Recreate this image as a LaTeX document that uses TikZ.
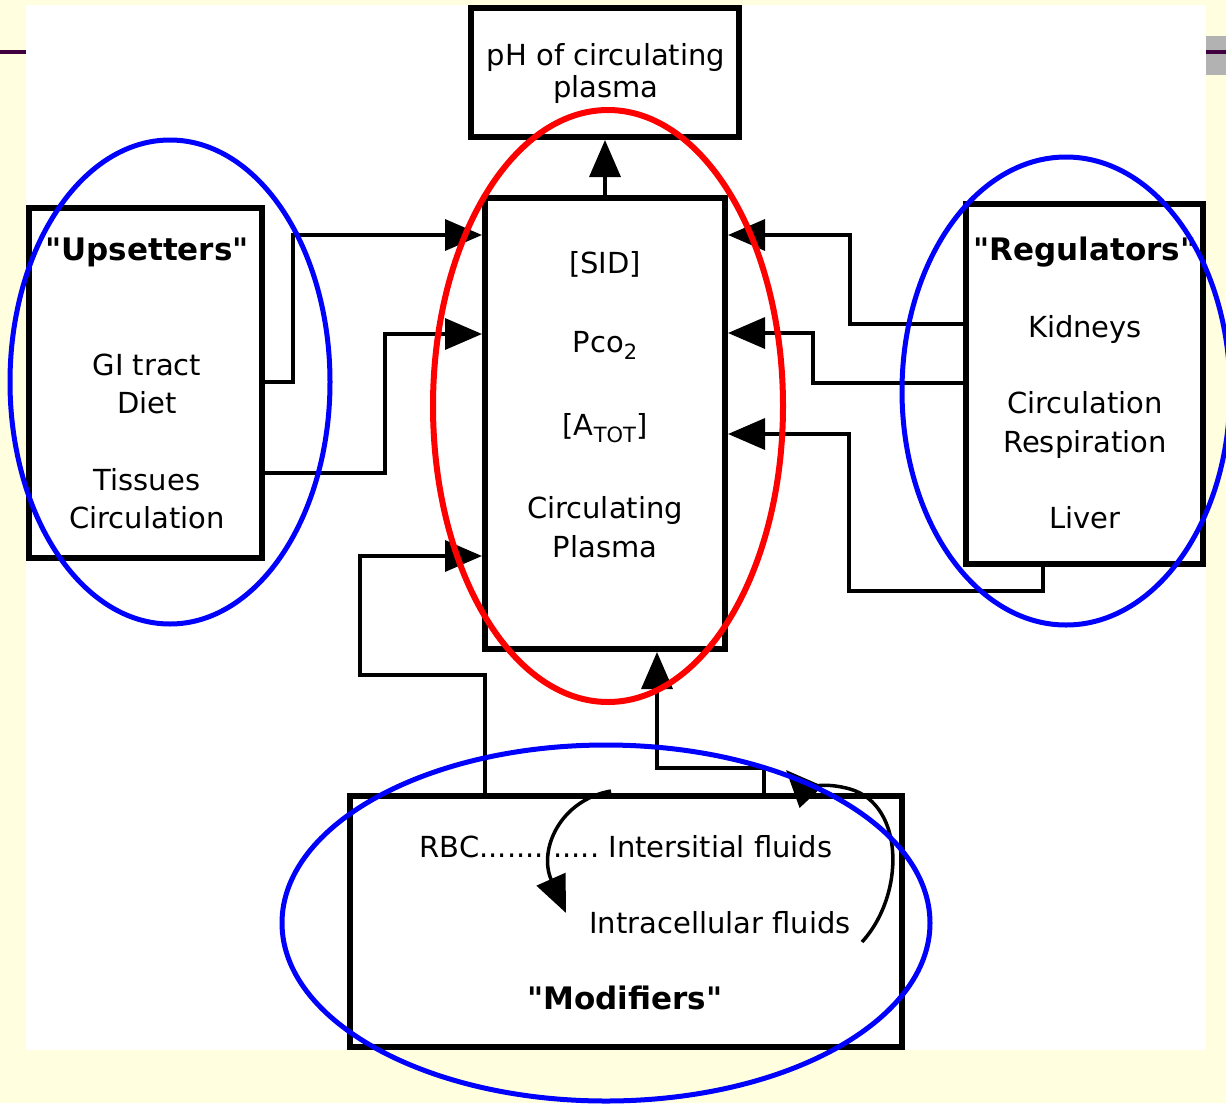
\documentclass[tikz,border=0pt]{standalone}
\usepackage{fontspec}
\setmainfont{DejaVu Sans}
\newfontfamily\qfont{DejaVu Sans}
\usetikzlibrary{arrows.meta}
\definecolor{bgyellow}{RGB}{255,255,224}
\definecolor{barpurple}{RGB}{64,0,64}
\definecolor{bargrey}{RGB}{178,178,178}
\definecolor{ovalblue}{RGB}{0,0,255}
\definecolor{ovalred}{RGB}{255,0,0}
\newcommand\lowsub[1]{\raisebox{-7pt}{\fontsize{21}{21}\selectfont #1}}
\newcommand\sq{{\qfont\char34}}
\begin{document}
\begin{tikzpicture}[x=1pt,y=-1pt,
  box/.style={draw=black, line width=6pt, fill=white, inner sep=0pt, rectangle},
  conn/.style={draw=black, line width=3.5pt},
  arr/.style={conn, -{Triangle[length=37pt,width=31pt]}},
  txt/.style={font=\fontsize{29}{39}\selectfont, inner sep=0pt, anchor=base},
  ttl/.style={font=\bfseries\fontsize{31}{39}\selectfont, inner sep=0pt, anchor=base},
  oval/.style={line width=5pt}]
% background
\fill[bgyellow] (0,0) rectangle (1226,1103);
\useasboundingbox (0,0) rectangle (1226,1103);
\fill[white] (26,5) rectangle (1206,1050);
\fill[barpurple] (0,50) rectangle (26,54);
\fill[bargrey] (1206,36) rectangle (1226,75);
\fill[barpurple] (1206,50) rectangle (1226,54);
% boxes
\node[box, minimum width=233pt, minimum height=350pt] (ups) at (145.5,383) {};
\node[box, minimum width=268pt, minimum height=129pt] (ph) at (605,72.5) {};
\node[box, minimum width=240pt, minimum height=451pt] (ctr) at (605,423.5) {};
\node[box, minimum width=237pt, minimum height=360pt] (reg) at (1084.5,384) {};
\node[box, minimum width=552pt, minimum height=251pt] (mod) at (626,921.5) {};
% connectors
\draw[arr] (ctr.north) -- (ph.south);
\draw[arr] (ups.east |- 0,382) -| (293,235) -- (ctr.west |- 0,235);
\draw[arr] (ups.east |- 0,473) -| (385,334) -- (ctr.west |- 0,334);
\draw[arr] (mod.north -| 485,0) |- (360,675) |- (ctr.west |- 0,556);
\draw[arr] (reg.west |- 0,324) -| (850,235) -- (ctr.east |- 0,235);
\draw[arr] (reg.west |- 0,383) -| (813,333) -- (ctr.east |- 0,333);
\draw[arr] (reg.south -| 1043,0) |- (849,591) |- (ctr.east |- 0,434);
\draw[arr] (mod.north -| 764,0) |- (657,768) -- (ctr.south -| 657,0);
% texts
\node[txt] (phA) at (606,65) {pH of circulating};
\node[txt] (phB) at (606,97) {plasma};
\node[ttl] (upsT) at (147,260) {\sq Upsetters\sq};
\node[txt] (upsA) at (147,375) {GI tract};
\node[txt] (upsB) at (147,413) {Diet};
\node[txt] (upsC) at (147,490) {Tissues};
\node[txt] (upsD) at (147,528) {Circulation};
\node[txt] (ctrA) at (605,273) {[SID]};
\node[txt] (ctrB) at (605,352) {Pco\lowsub{2}};
\node[txt] (ctrC) at (605,435) {[A\lowsub{TOT}]};
\node[txt] (ctrD) at (605,518) {Circulating};
\node[txt] (ctrE) at (605,557) {Plasma};
\node[ttl] (regT) at (1085,260) {\sq Regulators\sq};
\node[txt] (regA) at (1085,337) {Kidneys};
\node[txt] (regB) at (1085,413) {Circulation};
\node[txt] (regC) at (1085,452) {Respiration};
\node[txt] (regD) at (1085,528) {Liver};
\node[txt] (rbc) at (626,857) {RBC.............\ Intersitial fluids};
\node[txt] (icf) at (720,933) {Intracellular fluids};
\node[ttl] (modT) at (625,1009) {\sq Modifiers\sq};
% curved exchange arrows
\draw[arr] (611,791) .. controls (560,800) and (538,850) .. (566,913);
\draw[arr] (862,942) .. controls (905,895) and (905,805) .. (850,789) .. controls (825,782) and (800,785) .. (786,770);
% highlight ovals
\draw[ovalblue, oval] (170,382) ellipse [x radius=160pt, y radius=242pt];
\draw[ovalred, line width=6pt] (608,406) ellipse [x radius=175pt, y radius=296pt];
\draw[ovalblue, oval] (1066,391) ellipse [x radius=164pt, y radius=234pt];
\draw[ovalblue, oval] (606,923) ellipse [x radius=324pt, y radius=178pt];
\end{tikzpicture}
\end{document}
